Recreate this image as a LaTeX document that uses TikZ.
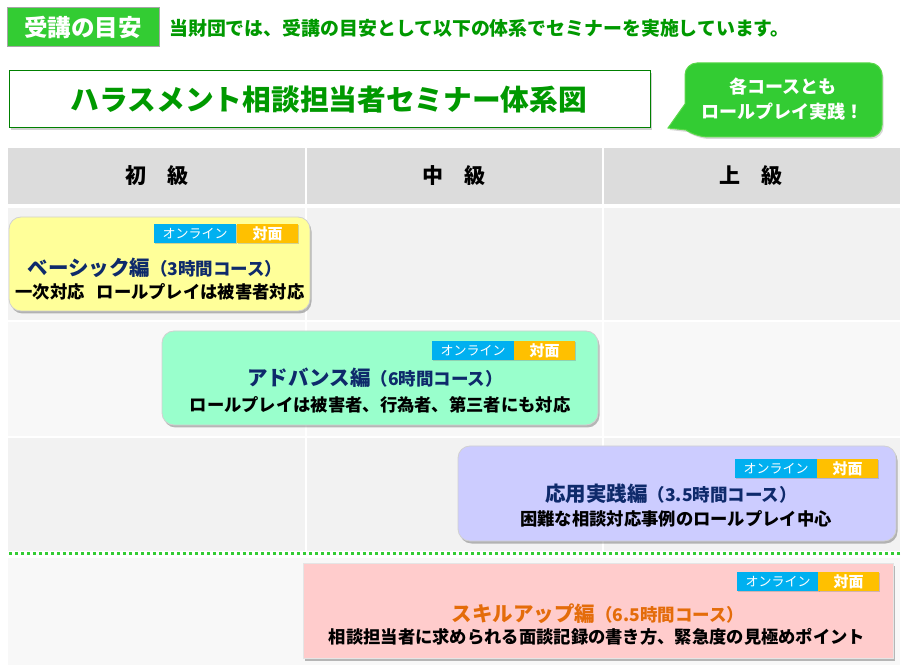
\documentclass[tikz,border=0pt]{standalone}
\usepackage{fontspec}
\setmainfont{Noto Sans CJK JP}
\usetikzlibrary{shadows}
\definecolor{hdrgreen}{HTML}{33CC33}
\definecolor{txtgreen}{HTML}{009900}
\definecolor{boxgreen}{HTML}{008000}
\definecolor{callborder}{HTML}{5AD84A}
\definecolor{hdrgray}{HTML}{DCDCDC}
\definecolor{rowA}{HTML}{F2F2F2}
\definecolor{rowB}{HTML}{F8F8F8}
\definecolor{navy}{HTML}{0E2A6B}
\definecolor{ylw}{HTML}{FFFF99}
\definecolor{mint}{HTML}{99FFCC}
\definecolor{lav}{HTML}{CCCCFF}
\definecolor{pnk}{HTML}{FFCCCC}
\definecolor{orng}{HTML}{E46C0A}
\definecolor{bblue}{HTML}{00B0F0}
\definecolor{bgold}{HTML}{FFC000}
\newcommand\setfs[1]{\fontsize{#1}{#1}\selectfont}
\begin{document}
\begin{tikzpicture}[x=1pt,y=-1pt,
  course/.style={draw=black!18, line width=0.8pt, rounded corners=12,
    drop shadow={shadow xshift=1.5pt, shadow yshift=-2.5pt, opacity=0.45, fill=black!60}},
  coursesq/.style={draw=black!10, line width=0.6pt,
    drop shadow={shadow xshift=1.5pt, shadow yshift=-2.5pt, opacity=0.45, fill=black!60}},
  badge/.style={anchor=north west, inner sep=0, minimum height=19, text=white,
    draw=none,
    drop shadow={shadow xshift=1pt, shadow yshift=-1.2pt, opacity=0.35}},
  on/.style={badge, fill=bblue, minimum width=82, font=\setfs{13}},
  face/.style={badge, fill=bgold, minimum width=61, font=\setfs{15}\bfseries},
  ctitle/.style={text=navy, font=\bfseries, inner sep=0},
  cdesc/.style={text=black, font=\setfs{17.3}\bfseries, inner sep=0},
  colhead/.style={font=\setfs{21}\bfseries, inner sep=0}
]
\useasboundingbox (0,0) rectangle (903,668);
\fill[white] (0,0) rectangle (903,668);

% top header
\draw[fill=hdrgreen, draw=black!35, line width=1pt] (7,8) rectangle (159,47);
\node[text=white, font=\setfs{23.5}\bfseries, inner sep=0] (hdr) at (83,28) {受講の目安};
\node[text=txtgreen, font=\setfs{18.9}\bfseries, anchor=west, inner sep=0] (sub) at (169,28)
  {当財団では、受講の目安として以下の体系でセミナーを実施しています。};

% title box
\draw[fill=white, draw=boxgreen, line width=1pt,
  drop shadow={shadow xshift=2pt, shadow yshift=-2.5pt, opacity=0.35}] (9,71) rectangle (650,128);
\node[text=txtgreen, font=\setfs{28.7}\bfseries, inner sep=0] (title) at (329,100)
  {ハラスメント相談担当者セミナー体系図};

% callout
\draw[fill=hdrgreen, draw=callborder, line width=1pt,
  drop shadow={shadow xshift=1.5pt, shadow yshift=-2pt, opacity=0.3}]
  (685,104) [rounded corners=12] -- (685,63) -- (882,63) -- (882,137) -- (696,137)
  [sharp corners] -- (686,130) -- (668,128) -- cycle;
\node[text=white, font=\setfs{18}\bfseries, inner sep=0] (call1) at (783,87) {各コースとも};
\node[text=white, font=\setfs{18}\bfseries, inner sep=0] (call2) at (782,112) {ロールプレイ実践！};

% table header
\fill[hdrgray] (8,148) rectangle (305,204);
\fill[hdrgray] (306.5,148) rectangle (602,204);
\fill[hdrgray] (603.5,148) rectangle (900,204);
\node[colhead] (h1) at (157,176) {初　級};
\node[colhead] (h2) at (454,176) {中　級};
\node[colhead] (h3) at (751,176) {上　級};

% rows
\foreach \ya/\yb/\c in {208/320/rowA, 322/436/rowB, 438/551/rowA}{
  \fill[\c] (8,\ya) rectangle (305,\yb);
  \fill[\c] (306.5,\ya) rectangle (602,\yb);
  \fill[\c] (603.5,\ya) rectangle (900,\yb);
}
\fill[rowB] (8,558) rectangle (900,665);
\draw[hdrgreen, line width=3pt, dash pattern=on 3pt off 3pt,
  drop shadow={shadow xshift=0.5pt, shadow yshift=-1.5pt, opacity=0.25}] (9,553) -- (900,553);

% basic
\path[course, fill=ylw] (9,217) rectangle (310,311);
\node[on] (b1) at (154,224) {オンライン};
\node[face] (b2) at (237,224) {対面};
\node[ctitle] (bt) at (155,268) {\setfs{20.5}ベーシック編\setfs{17.5}（3時間コース）};
\node[cdesc] (bd) at (160,292) {一次対応\hspace{12pt}ロールプレイは被害者対応};

% advanced
\path[course, fill=mint] (162,331) rectangle (598,425);
\node[on] (a1) at (432,341) {オンライン};
\node[face] (a2) at (514,341) {対面};
\node[ctitle] (at) at (375,378) {\setfs{20.5}アドバンス編\setfs{17.5}（6時間コース）};
\node[cdesc] (ad) at (380,405) {ロールプレイは被害者、行為者、第三者にも対応};

% applied
\path[course, fill=lav] (458,446) rectangle (896,541);
\node[on] (p1) at (735,459) {オンライン};
\node[face] (p2) at (817,459) {対面};
\node[ctitle] (pt) at (671,494) {\setfs{20.5}応用実践編\setfs{17.5}（3.5時間コース）};
\node[cdesc] (pd) at (676,519) {困難な相談対応事例のロールプレイ中心};

% skill up
\path[coursesq, fill=pnk] (303,563) rectangle (893,658);
\node[on] (s1) at (737,572) {オンライン};
\node[face] (s2) at (818,572) {対面};
\node[ctitle, text=orng] (st) at (598,614) {\setfs{20.5}スキルアップ編\setfs{17.5}（6.5時間コース）};
\node[cdesc] (sd) at (597,637) {相談担当者に求められる面談記録の書き方、緊急度の見極めポイント};
\end{tikzpicture}
\end{document}
